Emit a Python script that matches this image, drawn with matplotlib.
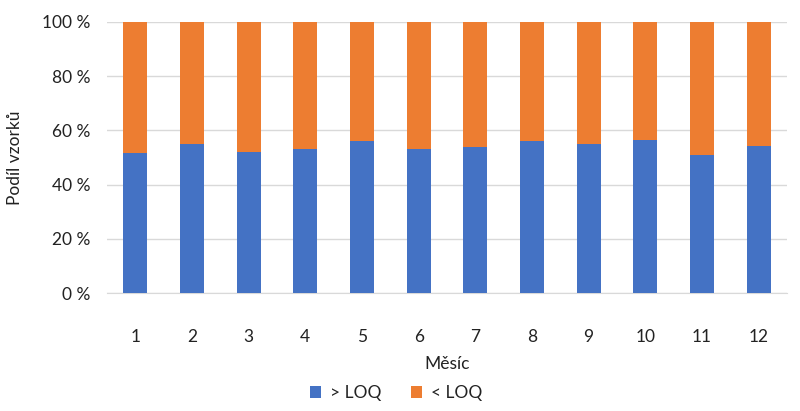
import matplotlib
matplotlib.use("Agg")
import matplotlib.pyplot as plt
import numpy as np

plt.rcParams['font.family'] = ['Lato', 'DejaVu Sans']

months = ['1', '2', '3', '4', '5', '6', '7', '8', '9', '10', '11', '12']
above_loq = [51.8, 55.0, 52.0, 53.2, 56.0, 53.0, 54.0, 56.0, 55.0, 56.6, 51.0, 54.4]
below_loq = [100 - v for v in above_loq]
yticks = [0, 20, 40, 60, 80, 100]
ytick_labels = ['0 %', '20 %', '40 %', '60 %', '80 %', '100 %']

fs = 12.5
fig = plt.figure(figsize=(8, 4.11), dpi=100)
ax = fig.add_axes([107/800, 1 - 293/411, 680/800, 271/411])

x = np.arange(len(months))
w = 0.42
ax.bar(x, above_loq, w, color='#4472C4', label='> LOQ', zorder=3)
ax.bar(x, below_loq, w, bottom=above_loq, color='#ED7D31', label='< LOQ', zorder=3)

ax.set_xlim(-0.5, len(months) - 0.5)
ax.set_ylim(0, 100)
ax.set_yticks(yticks)
ax.set_yticklabels(ytick_labels)
ax.set_xticks(x)
ax.set_xticklabels(months)
ax.yaxis.grid(True, color='#D9D9D9', linewidth=1, zorder=0)
ax.set_axisbelow(True)
for s in ['top', 'right', 'left']:
    ax.spines[s].set_visible(False)
ax.spines['bottom'].set_color('#D9D9D9')
ax.tick_params(axis='both', length=0, labelsize=fs, colors='#222222')
ax.tick_params(axis='x', pad=26)
ax.tick_params(axis='y', pad=12)

ax.set_xlabel('Měsíc', fontsize=fs, color='#222222', labelpad=8)
ax.set_ylabel('Podíl vzorků', fontsize=fs, color='#222222', labelpad=14)

leg = fig.legend(loc='center', bbox_to_anchor=(396/800, 1 - 393/411), ncol=2,
                 frameon=False, fontsize=fs, handlelength=0.65, handleheight=0.65,
                 columnspacing=1.7, handletextpad=0.5)
for t in leg.get_texts():
    t.set_color('#222222')

fig.savefig('out.png', dpi=100)
